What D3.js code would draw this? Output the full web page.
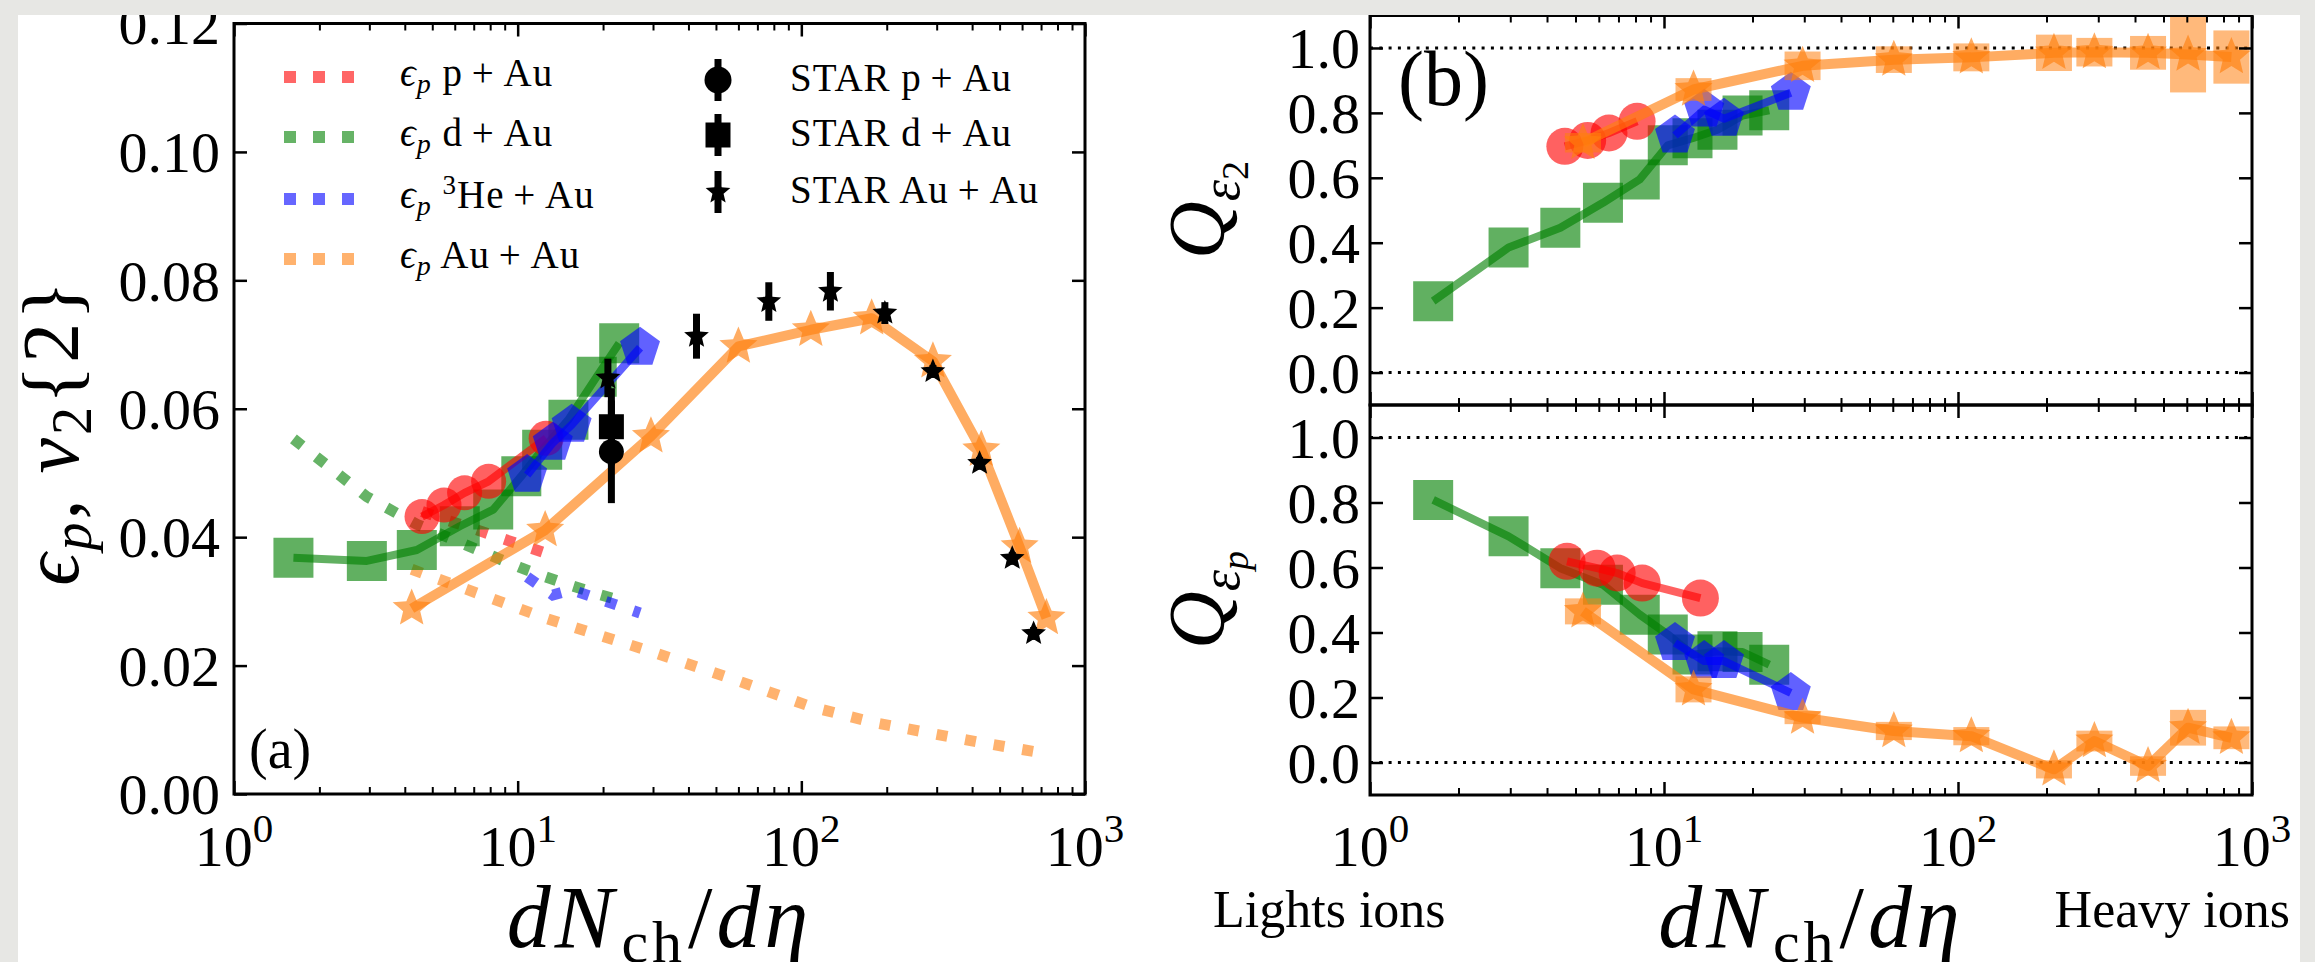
<!DOCTYPE html>
<html>
<head>
<meta charset="utf-8">
<script src="https://cdn.jsdelivr.net/npm/d3@7"></script>
<style>
  html, body { margin: 0; padding: 0; background: #e7e7e4; }
  svg { display: block; }
</style>
</head>
<body>
<svg id="fig" width="2315" height="962"></svg>
<script>
// ---------- tick values ----------
const decades = [1, 10, 100, 1000];
const minorLog = [2, 3, 4, 5, 6, 7, 8, 9, 20, 30, 40, 50, 60, 70, 80, 90, 200, 300, 400, 500, 600, 700, 800, 900];
const v2Ticks = [0, 0.02, 0.04, 0.06, 0.08, 0.10, 0.12];
const qTicks = [0, 0.2, 0.4, 0.6, 0.8, 1.0];
const refLevels = [0, 1];

// ---------- panel (a): v2{2} from hydro (solid, markers) ----------
const pAuX = [4.6, 5.5, 6.5, 7.9, 12.6];
const pAuV2 = [0.0432, 0.0450, 0.0469, 0.0487, 0.0554];
const dAuX = [1.62, 2.94, 4.41, 6.25, 8.2, 10.3, 12.2, 15.1, 19.0, 22.8];
const dAuV2 = [0.0368, 0.0363, 0.0380, 0.0417, 0.0443, 0.0495, 0.0536, 0.0583, 0.0650, 0.0702];
const heAuX = [10.8, 13.3, 15.5, 27];
const heAuV2 = [0.0497, 0.0547, 0.0575, 0.0695];
const auAuX = [4.23, 12.5, 29.5, 60, 108, 177, 291, 431, 588, 731];
const auAuV2 = [0.0289, 0.0411, 0.0557, 0.0697, 0.0723, 0.0741, 0.0674, 0.0536, 0.0385, 0.0274];

// ---------- panel (a): momentum anisotropy eps_p (dotted) ----------
const pAuEps = [0.0440, 0.0428, 0.0418, 0.0405, 0.0375];
const dAuEps = [0.0553, 0.0463, 0.0420, 0.0392, 0.0370, 0.0352, 0.0340, 0.0326, 0.0312, 0.0302];
const heAuEps = [0.0338, 0.0310, 0.0318, 0.0282];
const auAuEps = [0.0350, 0.0274, 0.0222, 0.0176, 0.0136, 0.0112, 0.0094, 0.0080, 0.0070, 0.0063];

// ---------- panel (a): STAR measurements ----------
const starPAuX = [21.4];
const starPAuV2 = [0.0533];
const starPAuErr = [0.008];
const starDAuX = [21.4];
const starDAuV2 = [0.0572];
const starDAuErr = [0.006];
const starAuAuX = [20.8, 42.7, 76.8, 126.6, 197, 291, 425, 554, 659];
const starAuAuV2 = [0.0648, 0.0713, 0.0767, 0.0783, 0.0749, 0.0658, 0.0515, 0.0367, 0.0250];
const starAuAuErr = [0.003, 0.0035, 0.003, 0.003, 0.0017, 0.001, 0.001, 0.001, 0.001];

// ---------- panel (b): Pearson coefficients ----------
const qPAuX = [4.68, 5.92, 6.93, 8.43, 13.3];
const qDAuX = [1.64, 2.96, 4.44, 6.2, 8.27, 10.3, 12.5, 15.2, 18.5, 22.8];
const qHeAuX = [10.9, 13.7, 16.0, 27];
const qAuAuX = [5.3, 12.6, 29.6, 60.5, 111, 212, 291, 443, 606, 851];

const qe2PAuX = [4.6, 5.5, 6.5, 8.1];
const qe2PAu = [0.697, 0.715, 0.738, 0.774];
const qe2DAu = [0.220, 0.385, 0.446, 0.523, 0.595, 0.700, 0.722, 0.748, 0.792, 0.808];
const qe2HeAu = [0.730, 0.810, 0.782, 0.862];
const qe2AuAu = [0.708, 0.872, 0.945, 0.964, 0.971, 0.985, 0.987, 0.985, 0.980, 0.972];
const qe2AuAuErr = [0.030, 0.035, 0.044, 0.041, 0.043, 0.056, 0.044, 0.052, 0.117, 0.082];

const qepPAu = [0.619, 0.598, 0.583, 0.552, 0.506];
const qepDAu = [0.808, 0.696, 0.598, 0.547, 0.455, 0.394, 0.332, 0.342, 0.340, 0.301];
const qepHeAu = [0.368, 0.312, 0.312, 0.214];
const qepAuAu = [0.465, 0.225, 0.138, 0.097, 0.081, -0.021, 0.066, -0.011, 0.107, 0.076];
const qepAuAuErr = [0.040, 0.040, 0.020, 0.028, 0.028, 0.028, 0.032, 0.030, 0.055, 0.035];

// ---------- styling ----------
const SERIF = "'Liberation Serif', 'DejaVu Serif', serif";
const C = { red: "#ff0000", green: "#008000", blue: "#0000ff", orange: "#ff7f0e" };
const zip = (xs, ys) => xs.map((x, i) => [x, ys[i]]);

// custom marker shapes; `size` is the outer radius squared
const symPentagon = {
  draw(ctx, size) {
    const r = Math.sqrt(size);
    for (let i = 0; i < 5; i++) {
      const a = -Math.PI / 2 + i * 2 * Math.PI / 5;
      i ? ctx.lineTo(r * Math.cos(a), r * Math.sin(a)) : ctx.moveTo(r * Math.cos(a), r * Math.sin(a));
    }
    ctx.closePath();
  }
};
const symStar = {
  draw(ctx, size) {
    const R = Math.sqrt(size), r = R * 0.45;
    for (let i = 0; i < 10; i++) {
      const a = -Math.PI / 2 + i * Math.PI / 5, rr = i % 2 ? r : R;
      i ? ctx.lineTo(rr * Math.cos(a), rr * Math.sin(a)) : ctx.moveTo(rr * Math.cos(a), rr * Math.sin(a));
    }
    ctx.closePath();
  }
};
const symSquareR = { // square of half-side sqrt(size)
  draw(ctx, size) { const h = Math.sqrt(size); ctx.rect(-h, -h, 2 * h, 2 * h); }
};
const symCircleR = {
  draw(ctx, size) { const r = Math.sqrt(size); ctx.moveTo(r, 0); ctx.arc(0, 0, r, 0, 2 * Math.PI); }
};

const svg = d3.select("#fig");
svg.append("defs").append("clipPath").attr("id", "sheet")
  .append("rect").attr("x", 18).attr("y", 15).attr("width", 2282).attr("height", 947);
const root = svg.append("g").attr("clip-path", "url(#sheet)");
root.append("rect").attr("x", 18).attr("y", 15).attr("width", 2282).attr("height", 947).attr("fill", "#ffffff");

// ---------- scales ----------
const xA = d3.scaleLog().domain([1, 1000]).range([234, 1085]);
const yA = d3.scaleLinear().domain([0, 0.12]).range([794, 23.5]);
const xB = d3.scaleLog().domain([1, 1000]).range([1370, 2252]);
const yBt = d3.scaleLinear().domain([-0.1, 1.1]).range([405, 15.5]);
const yBb = d3.scaleLinear().domain([-0.1, 1.1]).range([795, 405]);

// ---------- helpers ----------
function styleTicks(sel, w) {
  sel.select(".domain").remove();
  sel.selectAll(".tick line").attr("stroke", "#000").attr("stroke-width", w);
}
function xTickRow(g, x, yPos, inward) {
  const mk = inward === "up" ? d3.axisBottom : d3.axisTop;
  g.append("g").attr("transform", `translate(0,${yPos})`)
    .call(mk(x).tickValues(minorLog).tickSize(-7).tickFormat(""))
    .call(s => styleTicks(s, 2));
  g.append("g").attr("transform", `translate(0,${yPos})`)
    .call(mk(x).tickValues(decades).tickSize(-13).tickFormat(""))
    .call(s => styleTicks(s, 2.5));
}
function yTickCols(g, x, y, ticks, fmt, pad) {
  const [x0, x1] = x.range();
  g.append("g").attr("transform", `translate(${x0},0)`)
    .call(d3.axisLeft(y).tickValues(ticks).tickSize(-13).tickPadding(pad).tickFormat(fmt))
    .call(s => styleTicks(s, 2.5))
    .call(s => s.selectAll("text").attr("font-family", SERIF).attr("font-size", 58)
      .attr("fill", "#000").attr("dy", "0.34em"));
  g.append("g").attr("transform", `translate(${x1},0)`)
    .call(d3.axisRight(y).tickValues(ticks).tickSize(-13).tickFormat(""))
    .call(s => styleTicks(s, 2.5));
}
function decadeLabels(g, x, baseY) {
  const t = g.selectAll("text.dec").data(decades).join("text")
    .attr("class", "dec")
    .attr("x", d => x(d)).attr("y", baseY)
    .attr("text-anchor", "middle")
    .attr("font-family", SERIF).attr("font-size", 58);
  t.append("tspan").text("10");
  t.append("tspan").attr("dy", -24).attr("font-size", 41).text(d => Math.round(Math.log10(d)));
}
function frame(g, x, y) {
  const [x0, x1] = x.range(), [y0, y1] = y.range();
  g.append("rect").attr("x", x0).attr("y", Math.min(y0, y1))
    .attr("width", x1 - x0).attr("height", Math.abs(y0 - y1))
    .attr("fill", "none").attr("stroke", "#000").attr("stroke-width", 3);
}
function series(g, x, y, pts, color, shape, size, lw, op) {
  g.append("path").datum(pts)
    .attr("d", d3.line().x(d => x(d[0])).y(d => y(d[1])))
    .attr("fill", "none").attr("stroke", color).attr("stroke-width", lw)
    .attr("stroke-opacity", op).attr("stroke-linejoin", "round");
  g.append("g").selectAll("path").data(pts).join("path")
    .attr("d", d3.symbol(shape, size))
    .attr("transform", d => `translate(${x(d[0])},${y(d[1])})`)
    .attr("fill", color).attr("fill-opacity", op);
}
function dotted(g, x, y, pts, color) {
  g.append("path").datum(pts)
    .attr("d", d3.line().x(d => x(d[0])).y(d => y(d[1])))
    .attr("fill", "none").attr("stroke", color).attr("stroke-width", 11)
    .attr("stroke-opacity", 0.6).attr("stroke-dasharray", "11,18");
}
function errBoxes(g, x, y, xs, vs, es, color) {
  g.append("g").selectAll("rect").data(xs.map((d, i) => [d, vs[i], es[i]])).join("rect")
    .attr("x", d => x(d[0]) - 18).attr("width", 36)
    .attr("y", d => y(d[1] + d[2])).attr("height", d => y(d[1] - d[2]) - y(d[1] + d[2]))
    .attr("fill", color).attr("fill-opacity", 0.55);
}
function starData(g, x, y, xs, vs, es, shape, size) {
  const d = xs.map((v, i) => [v, vs[i], es[i]]);
  g.append("g").selectAll("line").data(d).join("line")
    .attr("x1", p => x(p[0])).attr("x2", p => x(p[0]))
    .attr("y1", p => y(p[1] - p[2])).attr("y2", p => y(p[1] + p[2]))
    .attr("stroke", "#000").attr("stroke-width", 7);
  g.append("g").selectAll("path").data(d).join("path")
    .attr("d", d3.symbol(shape, size))
    .attr("transform", p => `translate(${x(p[0])},${y(p[1])})`)
    .attr("fill", "#000");
}
function xTitle(g, cx) {
  const t = g.append("text").attr("x", cx).attr("y", 947).attr("text-anchor", "middle")
    .attr("font-family", SERIF).attr("font-size", 88).attr("letter-spacing", 4);
  t.append("tspan").attr("font-style", "italic").text("dN");
  t.append("tspan").attr("font-size", 60).attr("dx", 4).attr("dy", 15).text("ch");
  t.append("tspan").attr("dx", 2).attr("dy", -15).text("/");
  t.append("tspan").attr("font-style", "italic").text("dη");
}

// =================== panel (a) ===================
const pa = root.append("g");
dotted(pa, xA, yA, zip(auAuX, auAuEps), C.orange);
dotted(pa, xA, yA, zip(dAuX, dAuEps), C.green);
dotted(pa, xA, yA, zip(heAuX, heAuEps), C.blue);
dotted(pa, xA, yA, zip(pAuX, pAuEps), C.red);

series(pa, xA, yA, zip(dAuX, dAuV2), C.green, symSquareR, 20 * 20, 8, 0.62);
series(pa, xA, yA, zip(pAuX, pAuV2), C.red, symCircleR, 17.5 * 17.5, 8, 0.62);
series(pa, xA, yA, zip(heAuX, heAuV2), C.blue, symPentagon, 21 * 21, 8, 0.62);
series(pa, xA, yA, zip(auAuX, auAuV2), C.orange, symStar, 20 * 20, 10, 0.65);

starData(pa, xA, yA, starPAuX, starPAuV2, starPAuErr, symCircleR, 12.5 * 12.5);
starData(pa, xA, yA, starDAuX, starDAuV2, starDAuErr, symSquareR, 12.5 * 12.5);
starData(pa, xA, yA, starAuAuX, starAuAuV2, starAuAuErr, symStar, 13 * 13);

frame(pa, xA, yA);
xTickRow(pa, xA, yA.range()[0], "up");
xTickRow(pa, xA, yA.range()[1], "down");
yTickCols(pa, xA, yA, v2Ticks, d3.format(".2f"), 14);
decadeLabels(pa.append("g"), xA, 866);
xTitle(pa, (xA.range()[0] + xA.range()[1]) / 2);

// y title
{
  const t = pa.append("text").attr("transform", "translate(78,432) rotate(-90)")
    .attr("text-anchor", "middle").attr("font-family", SERIF).attr("font-size", 80)
    .attr("letter-spacing", 3);
  t.append("tspan").attr("font-style", "italic").text("ϵ");
  t.append("tspan").attr("font-style", "italic").attr("font-size", 56).attr("dy", 13).text("p");
  t.append("tspan").attr("dy", -13).text(", ");
  t.append("tspan").attr("font-style", "italic").text("v");
  t.append("tspan").attr("font-size", 56).attr("dy", 13).text("2");
  t.append("tspan").attr("dy", -13).text("{2}");
}
pa.append("text").attr("x", 249).attr("y", 768).attr("font-family", SERIF).attr("font-size", 56).text("(a)");

// legend: model curves
const legModel = [
  { c: C.red, pre: "", name: "p\u2009+\u2009Au" },
  { c: C.green, pre: "", name: "d\u2009+\u2009Au" },
  { c: C.blue, pre: "3", name: "He\u2009+\u2009Au" },
  { c: C.orange, pre: "", name: "Au\u2009+\u2009Au" }
];
const legRows = [77, 137, 199, 259];
legModel.forEach((d, i) => {
  const yy = legRows[i];
  pa.append("line").attr("x1", 284).attr("x2", 354).attr("y1", yy).attr("y2", yy)
    .attr("stroke", d.c).attr("stroke-width", 12).attr("stroke-opacity", 0.6)
    .attr("stroke-dasharray", "12,17");
  const t = pa.append("text").attr("x", 400).attr("y", yy + 9)
    .attr("font-family", SERIF).attr("font-size", 39).attr("letter-spacing", 1);
  t.append("tspan").attr("font-style", "italic").text("ϵ");
  t.append("tspan").attr("font-style", "italic").attr("font-size", 28).attr("dy", 7).text("p");
  if (d.pre) {
    t.append("tspan").attr("dy", -7).text(" ");
    t.append("tspan").attr("font-size", 27).attr("dy", -14).text(d.pre);
    t.append("tspan").attr("dy", 14).text(d.name);
  } else {
    t.append("tspan").attr("dy", -7).text(" " + d.name);
  }
});
// legend: STAR data
const legData = [
  { shape: symCircleR, size: 13.5 * 13.5, name: "STAR p\u2009+\u2009Au" },
  { shape: symSquareR, size: 12.5 * 12.5, name: "STAR d\u2009+\u2009Au" },
  { shape: symStar, size: 13 * 13, name: "STAR Au\u2009+\u2009Au" }
];
const legDataRows = [80, 135, 192];
legData.forEach((d, i) => {
  const yy = legDataRows[i];
  pa.append("line").attr("x1", 718).attr("x2", 718).attr("y1", yy - 21).attr("y2", yy + 21)
    .attr("stroke", "#000").attr("stroke-width", 7);
  pa.append("path").attr("d", d3.symbol(d.shape, d.size)).attr("transform", `translate(718,${yy})`).attr("fill", "#000");
  pa.append("text").attr("x", 790).attr("y", yy + 11).attr("font-family", SERIF)
    .attr("font-size", 39).attr("letter-spacing", 1).text(d.name);
});

// =================== panel (b) ===================
const pbt = root.append("g");
const pbb = root.append("g");

function refLines(g, x, y) {
  g.append("g").selectAll("line").data(refLevels).join("line")
    .attr("x1", x.range()[0]).attr("x2", x.range()[1])
    .attr("y1", d => y(d)).attr("y2", d => y(d))
    .attr("stroke", "#000").attr("stroke-width", 3).attr("stroke-dasharray", "3,6.3");
}
refLines(pbt, xB, yBt);
refLines(pbb, xB, yBb);

// top: Q for eccentricity
series(pbt, xB, yBt, zip(qDAuX, qe2DAu), C.green, symSquareR, 20 * 20, 8, 0.62);
series(pbt, xB, yBt, zip(qe2PAuX, qe2PAu), C.red, symCircleR, 18.5 * 18.5, 8, 0.62);
series(pbt, xB, yBt, zip(qHeAuX, qe2HeAu), C.blue, symPentagon, 21 * 21, 8, 0.62);
errBoxes(pbt, xB, yBt, qAuAuX, qe2AuAu, qe2AuAuErr, C.orange);
series(pbt, xB, yBt, zip(qAuAuX, qe2AuAu), C.orange, symStar, 20 * 20, 10, 0.65);

// bottom: Q for momentum anisotropy
series(pbb, xB, yBb, zip(qDAuX, qepDAu), C.green, symSquareR, 20 * 20, 8, 0.62);
series(pbb, xB, yBb, zip(qPAuX, qepPAu), C.red, symCircleR, 18.5 * 18.5, 8, 0.62);
series(pbb, xB, yBb, zip(qHeAuX, qepHeAu), C.blue, symPentagon, 21 * 21, 8, 0.62);
errBoxes(pbb, xB, yBb, qAuAuX, qepAuAu, qepAuAuErr, C.orange);
series(pbb, xB, yBb, zip(qAuAuX, qepAuAu), C.orange, symStar, 20 * 20, 10, 0.65);

frame(pbt, xB, yBt);
frame(pbb, xB, yBb);
xTickRow(pbt, xB, yBt.range()[1], "down");
xTickRow(pbt, xB, yBt.range()[0], "up");
xTickRow(pbb, xB, yBb.range()[1], "down");
xTickRow(pbb, xB, yBb.range()[0], "up");
yTickCols(pbt, xB, yBt, qTicks, d3.format(".1f"), 10);
yTickCols(pbb, xB, yBb, qTicks, d3.format(".1f"), 10);
decadeLabels(pbb.append("g"), xB, 866);
xTitle(pbb, (xB.range()[0] + xB.range()[1]) / 2);

function qTitle(g, cy, sub) {
  const t = g.append("text").attr("transform", `translate(1224,${cy}) rotate(-90)`)
    .attr("text-anchor", "middle").attr("font-family", SERIF).attr("font-size", 80);
  t.append("tspan").attr("font-style", "italic").text("Q");
  t.append("tspan").attr("font-style", "italic").attr("font-size", 54).attr("dy", 15).text("ε");
  t.append("tspan").attr("font-style", sub === "p" ? "italic" : "normal").attr("font-size", 38).attr("dy", 9).text(sub);
}
qTitle(pbt, 210, "2");
qTitle(pbb, 600, "p");

pbt.append("text").attr("x", 1398).attr("y", 105).attr("font-family", SERIF).attr("font-size", 78).text("(b)");
root.append("text").attr("x", 1213).attr("y", 927).attr("font-family", SERIF).attr("font-size", 52).text("Lights ions");
root.append("text").attr("x", 2290).attr("y", 927).attr("text-anchor", "end").attr("font-family", SERIF).attr("font-size", 52).text("Heavy ions");
</script>
</body>
</html>
